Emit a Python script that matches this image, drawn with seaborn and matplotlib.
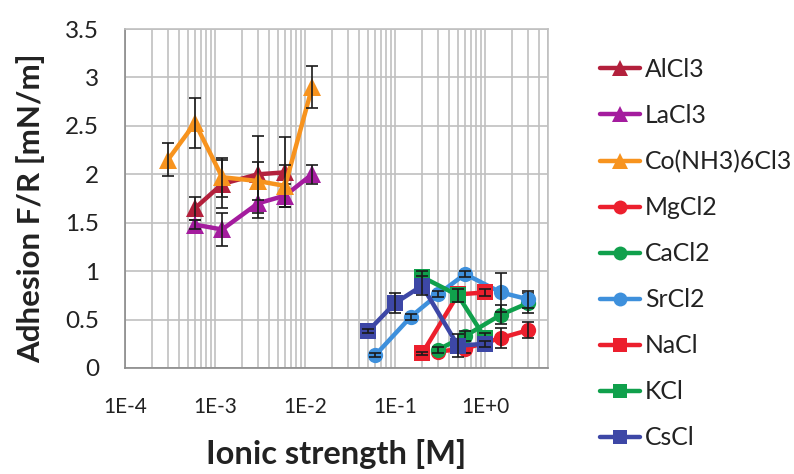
import numpy as np
import pandas as pd
import matplotlib
matplotlib.use("Agg")
import matplotlib.pyplot as plt
import seaborn as sns
from matplotlib.ticker import LogLocator, FixedLocator, NullFormatter
from matplotlib.lines import Line2D

# ---- data ----
alcl3_x = [6e-4, 1.2e-3, 3e-3, 6e-3]
alcl3_y = [1.65, 1.90, 2.00, 2.02]
alcl3_e = [0.12, 0.25, 0.40, 0.36]

lacl3_x = [6e-4, 1.2e-3, 3e-3, 6e-3, 1.2e-2]
lacl3_y = [1.48, 1.43, 1.70, 1.78, 2.00]
lacl3_e = [0.05, 0.17, 0.15, 0.12, 0.10]

co_x = [3e-4, 6e-4, 1.2e-3, 3e-3, 6e-3, 1.2e-2]
co_y = [2.15, 2.53, 1.97, 1.93, 1.88, 2.90]
co_e = [0.17, 0.26, 0.20, 0.20, 0.22, 0.22]

mgcl2_x = [0.3, 0.6, 1.5, 3.0]
mgcl2_y = [0.17, 0.20, 0.31, 0.39]
mgcl2_e = [0.03, 0.05, 0.10, 0.08]

cacl2_x = [0.3, 0.6, 1.5, 3.0]
cacl2_y = [0.19, 0.33, 0.55, 0.67]
cacl2_e = [0.03, 0.05, 0.10, 0.10]

srcl2_x = [0.06, 0.15, 0.3, 0.6, 1.5, 3.0]
srcl2_y = [0.13, 0.53, 0.76, 0.97, 0.78, 0.71]
srcl2_e = [0.02, 0.03, 0.03, 0.03, 0.20, 0.09]

nacl_x = [0.2, 0.5, 1.0]
nacl_y = [0.15, 0.76, 0.78]
nacl_e = [0.02, 0.05, 0.04]

kcl_x = [0.2, 0.5, 1.0]
kcl_y = [0.94, 0.75, 0.31]
kcl_e = [0.06, 0.07, 0.05]

cscl_x = [0.05, 0.1, 0.2, 0.5, 1.0]
cscl_y = [0.38, 0.67, 0.85, 0.23, 0.25]
cscl_e = [0.02, 0.10, 0.10, 0.12, 0.03]

series_names = ["AlCl3", "LaCl3", "Co(NH3)6Cl3", "MgCl2", "CaCl2", "SrCl2", "NaCl", "KCl", "CsCl"]
series_data = [
    (alcl3_x, alcl3_y, alcl3_e),
    (lacl3_x, lacl3_y, lacl3_e),
    (co_x, co_y, co_e),
    (mgcl2_x, mgcl2_y, mgcl2_e),
    (cacl2_x, cacl2_y, cacl2_e),
    (srcl2_x, srcl2_y, srcl2_e),
    (nacl_x, nacl_y, nacl_e),
    (kcl_x, kcl_y, kcl_e),
    (cscl_x, cscl_y, cscl_e),
]
colors = ["#B3203C", "#A41C9E", "#F7931E", "#EC1F2D", "#10A04C", "#3E90DC", "#EC1F2D", "#10A04C", "#3D47A6"]
markers = ["^", "^", "^", "o", "o", "o", "s", "s", "s"]
x_tick_labels = ["1E-4", "1E-3", "1E-2", "1E-1", "1E+0"]
y_tick_labels = ["0", "0.5", "1", "1.5", "2", "2.5", "3", "3.5"]

sns.set_style("white")
plt.rcParams["font.family"] = ["Lato", "DejaVu Sans"]

fig = plt.figure(figsize=(7.94, 4.74), dpi=100)
ax = fig.add_axes([125/794, 1-368/474, (548-125)/794, (368-29)/474])

grid_c = "#C0C0C0"
for i, (name, (xs, ys, es)) in enumerate(zip(series_names, series_data)):
    df = pd.DataFrame({"x": xs, "y": ys})
    sns.lineplot(data=df, x="x", y="y", ax=ax, color=colors[i], marker=markers[i],
                 markersize=13 if markers[i] == "^" else 11, markeredgewidth=0,
                 linewidth=3.2, zorder=3 + i, legend=False)
    ax.errorbar(xs, ys, yerr=es, fmt="none", ecolor="#1a1a1a", elinewidth=1.2,
                capsize=4.5, capthick=1.2, zorder=3 + i)

ax.set_xscale("log")
ax.set_xlim(1e-4, 5)
ax.set_ylim(0, 3.5)

ax.xaxis.set_major_locator(FixedLocator([1e-4, 1e-3, 1e-2, 1e-1, 1]))
ax.xaxis.set_minor_locator(LogLocator(base=10, subs=np.arange(2, 10), numticks=20))
ax.xaxis.set_minor_formatter(NullFormatter())
ax.set_xticklabels(x_tick_labels)
ax.set_yticks(np.arange(0, 3.51, 0.5))
ax.set_yticklabels(y_tick_labels)

ax.grid(True, which="both", axis="x", color=grid_c, linewidth=1.2)
ax.grid(True, which="major", axis="y", color=grid_c, linewidth=1.2)
ax.set_axisbelow(True)

for s in ["top", "right"]:
    ax.spines[s].set_visible(True)
    ax.spines[s].set_color(grid_c)
    ax.spines[s].set_linewidth(1.2)
for s in ["left", "bottom"]:
    ax.spines[s].set_color("#8a8a8a")
    ax.spines[s].set_linewidth(1.2)

ax.tick_params(axis="x", which="major", direction="inout", length=8, width=1.0, color="#8a8a8a",
               labelsize=15, pad=17, labelcolor="#222222")
ax.tick_params(axis="x", which="minor", direction="inout", length=6, width=1.0, color="#8a8a8a")
ax.tick_params(axis="y", which="major", direction="inout", length=8, width=1.0, color="#8a8a8a",
               labelsize=17.5, pad=14.5, labelcolor="#222222")

ax.set_ylabel("Adhesion F/R [mN/m]", fontsize=22.5, fontweight="bold", color="#222222")
ax.yaxis.set_label_coords(-0.222, 0.472)
ax.set_xlabel("Ionic strength [M]", fontsize=23.5, fontweight="bold", color="#222222")
ax.xaxis.set_label_coords(0.5, -0.254)
ax.xaxis.label.set_va("center")
ax.yaxis.label.set_va("center")

handles = [Line2D([0], [0], color=c, marker=m, markersize=12 if m == "^" else 10,
                  markeredgewidth=0, linewidth=3.2)
           for c, m in zip(colors, markers)]
fig.legend(handles, series_names, loc="upper left", bbox_to_anchor=(600/794, 1-58/474),
           frameon=False, fontsize=17.8, handlelength=1.62, handletextpad=0.2,
           labelspacing=0.93, borderpad=0, borderaxespad=0, labelcolor="#222222")

fig.savefig("out.png", dpi=100, facecolor="white")
